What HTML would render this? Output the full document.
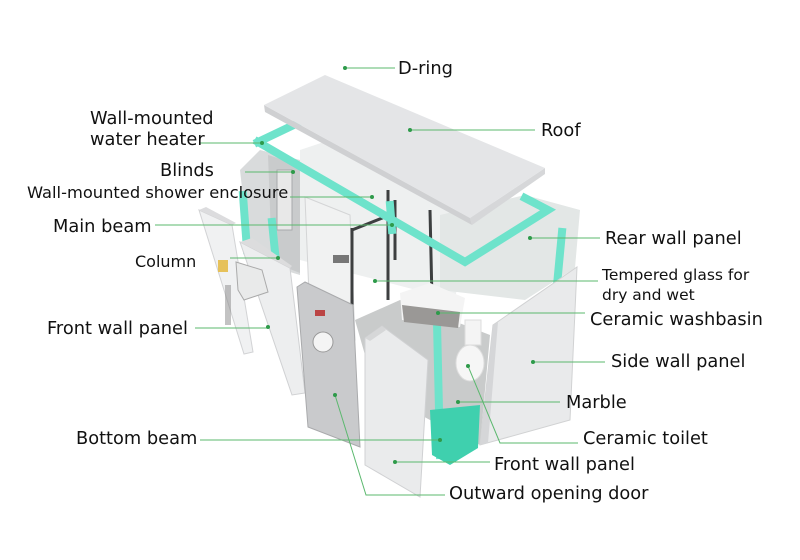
<!DOCTYPE html>
<html><head><meta charset="utf-8"><style>
html,body{margin:0;padding:0;background:#fff}
svg{display:block}
text{font-family:"DejaVu Sans","Liberation Sans",sans-serif;font-size:17.8px;fill:#111}
</style></head><body>
<svg width="800" height="560" viewBox="0 0 800 560" xmlns="http://www.w3.org/2000/svg">
<rect width="800" height="560" fill="#fff"/>
<polygon points="300,150 330,140 470,205 455,300 300,260" fill="#eef0f0"/>
<polygon points="440,215 525,195 580,210 575,268 525,300 440,290" fill="#e3e7e6"/>
<polygon points="240,170 260,150 300,160 300,275 250,260" fill="#d9dbdc"/>
<polygon points="268,155 300,165 300,273 272,262" fill="#c9cbcc"/>
<rect x="277" y="170" width="15" height="60" fill="#e8e8e8" stroke="#a8aaab"/>
<polygon points="305,197 350,215 355,340 310,320" fill="#f1f2f2" stroke="#d4d5d6"/>
<polygon points="355,320 400,300 490,335 480,445 430,420 375,390" fill="#c9cbcb"/>
<path d="M352,228 L352,335 M352,230 L390,215 M388,190 L388,300 M395,200 L395,260 M430,210 L432,300" stroke="#3d3f40" stroke-width="3" fill="none"/>
<rect x="333" y="255" width="16" height="8" fill="#777"/>
<g stroke="#6ee3cb" stroke-width="8" fill="none" stroke-linecap="square">
<path d="M258,142 L465,262 L548,210 L525,198"/>
<path d="M258,142 L300,122"/>
<path d="M243,195 L247,250"/>
<path d="M272,222 L276,262"/>
<path d="M562,232 L557,285"/>
<path d="M437,322 L440,455"/>
<path d="M390,205 L392,230"/>
</g>
<polygon points="430,410 480,405 478,448 450,465 432,455" fill="#3fd0ae"/>
<polygon points="400,293 430,283 465,298 460,327 402,320" fill="#f4f4f4"/>
<polygon points="402,305 460,312 458,328 404,322" fill="#9a9896"/>
<ellipse cx="470" cy="363" rx="14" ry="18" fill="#f6f6f6" stroke="#ddd"/>
<rect x="465" y="320" width="16" height="25" fill="#f4f4f4" stroke="#ddd"/>
<polygon points="264,105 470,218 472,225 265,112" fill="#cfd0d2"/>
<polygon points="470,218 545,168 545,174 472,225" fill="#d6d7d9"/>
<polygon points="264,105 325,75 545,168 470,218" fill="#e4e5e7"/>
<polygon points="199,210 232,225 253,352 244,354" fill="#f0f1f2" stroke="#d2d3d5"/>
<polygon points="199,210 206,207 236,223 232,225" fill="#dcdcde"/>
<rect x="218" y="260" width="10" height="12" fill="#e6c15a"/>
<rect x="225" y="285" width="6" height="40" fill="#888" opacity="0.5"/>
<polygon points="240,242 290,268 305,393 292,395" fill="#edeeef" stroke="#d0d1d3"/>
<polygon points="240,242 252,238 292,266 290,268" fill="#dcdcdd"/>
<polygon points="236,262 262,270 268,292 244,300 238,290" fill="#e9eaea" stroke="#aaa"/>
<polygon points="297,287 305,282 353,305 360,447 308,427" fill="#c9cacc" stroke="#a9aaac"/>
<circle cx="323" cy="342" r="10" fill="#f4f4f4" stroke="#999"/>
<rect x="315" y="310" width="10" height="6" fill="#b44"/>
<polygon points="365,338 382,326 428,360 420,497 365,465" fill="#eaebec" stroke="#d0d1d3"/>
<polygon points="365,338 382,326 386,330 370,341" fill="#d6d7d8"/>
<polygon points="493,325 577,267 570,420 480,445" fill="#e9eaeb" stroke="#d1d2d3"/>
<polygon points="480,445 493,325 498,322 488,443" fill="#d5d6d8"/>
<g stroke="#5bb86e" stroke-width="1" fill="none">
<path d="M345,68 H395"/><path d="M410,130 H535"/>
<path d="M200,143 H262"/><path d="M245,172 H293"/>
<path d="M290,197 H372"/><path d="M155,225 H392"/>
<path d="M230,258 H278"/><path d="M195,328 H268"/>
<path d="M200,440 H440"/><path d="M530,238 H600"/>
<path d="M375,281 H598"/><path d="M438,313 H585"/>
<path d="M533,362 H605"/><path d="M458,402 H560"/>
<path d="M468,366 L500,443 H578"/><path d="M395,462 H490"/>
<path d="M335,395 L366,495 H445"/>
</g>
<g fill="#2e9a4a">
<circle cx="345" cy="68" r="2"/><circle cx="410" cy="130" r="2"/><circle cx="262" cy="143" r="2"/>
<circle cx="293" cy="172" r="2"/><circle cx="372" cy="197" r="2"/><circle cx="392" cy="225" r="2"/>
<circle cx="278" cy="258" r="2"/><circle cx="268" cy="327" r="2"/><circle cx="440" cy="440" r="2"/>
<circle cx="530" cy="238" r="2"/><circle cx="375" cy="281" r="2"/><circle cx="438" cy="313" r="2"/>
<circle cx="533" cy="362" r="2"/><circle cx="458" cy="402" r="2"/><circle cx="468" cy="366" r="2"/>
<circle cx="395" cy="462" r="2"/><circle cx="335" cy="395" r="2"/>
</g>
<text x="398" y="74">D-ring</text>
<text x="541" y="136">Roof</text>
<text x="90" y="124">Wall-mounted</text>
<text x="90" y="145">water heater</text>
<text x="160" y="176">Blinds</text>
<text x="27" y="198" style="font-size:16.3px">Wall-mounted shower enclosure</text>
<text x="53" y="232">Main beam</text>
<text x="135" y="267" style="font-size:16px">Column</text>
<text x="47" y="334">Front wall panel</text>
<text x="76" y="444">Bottom beam</text>
<text x="605" y="244">Rear wall panel</text>
<text x="602" y="280" style="font-size:15.5px">Tempered glass for</text>
<text x="602" y="300" style="font-size:15.5px">dry and wet</text>
<text x="590" y="325">Ceramic washbasin</text>
<text x="611" y="367">Side wall panel</text>
<text x="566" y="408">Marble</text>
<text x="583" y="444">Ceramic toilet</text>
<text x="494" y="470">Front wall panel</text>
<text x="449" y="499">Outward opening door</text>
</svg>
</body></html>
